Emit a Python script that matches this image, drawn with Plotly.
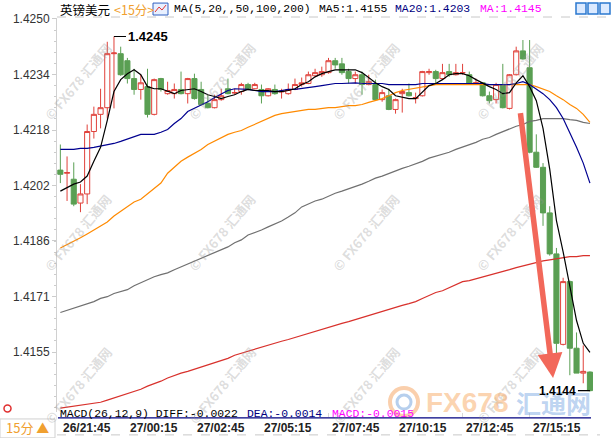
import plotly.graph_objects as go

# ---------------- data ----------------
time_labels = ["26/21:45", "27/00:15", "27/02:45", "27/05:15",
               "27/07:45", "27/10:15", "27/12:45", "27/15:15"]
label_bar_index = [0, 10, 20, 30, 40, 50, 60, 70]

opens = [1.42069, 1.42060, 1.42043, 1.41975, 1.42001, 1.42179, 1.42228, 1.42247, 1.42401, 1.42401,
         1.42381, 1.42330, 1.42299, 1.42307, 1.42228, 1.42330, 1.42287, 1.42287, 1.42299, 1.42287,
         1.42330, 1.42299, 1.42259, 1.42247, 1.42270, 1.42301, 1.42289, 1.42293, 1.42313, 1.42301,
         1.42299, 1.42281, 1.42299, 1.42292, 1.42287, 1.42299, 1.42313, 1.42316, 1.42338, 1.42341,
         1.42347, 1.42381, 1.42372, 1.42350, 1.42330, 1.42341, 1.42313, 1.42313, 1.42270, 1.42281,
         1.42242, 1.42287, 1.42290, 1.42273, 1.42281, 1.42347, 1.42350, 1.42330, 1.42350, 1.42341,
         1.42346, 1.42341, 1.42317, 1.42318, 1.42281, 1.42270, 1.42313, 1.42245, 1.42341, 1.42409,
         1.42361, 1.42120, 1.42077, 1.41947, 1.41830, 1.41572, 1.41751, 1.41561, 1.41490, 1.41493]
highs = [1.42142, 1.42108, 1.42091, 1.42029, 1.42199, 1.42250, 1.42301, 1.42435, 1.42450, 1.42421,
         1.42389, 1.42358, 1.42341, 1.42358, 1.42330, 1.42332, 1.42321, 1.42316, 1.42350, 1.42332,
         1.42344, 1.42321, 1.42284, 1.42284, 1.42301, 1.42330, 1.42301, 1.42318, 1.42318, 1.42318,
         1.42313, 1.42303, 1.42313, 1.42301, 1.42316, 1.42330, 1.42333, 1.42350, 1.42358, 1.42364,
         1.42389, 1.42389, 1.42389, 1.42358, 1.42350, 1.42350, 1.42341, 1.42327, 1.42299, 1.42301,
         1.42273, 1.42301, 1.42316, 1.42290, 1.42352, 1.42358, 1.42355, 1.42372, 1.42372, 1.42372,
         1.42372, 1.42350, 1.42330, 1.42320, 1.42293, 1.42318, 1.42372, 1.42343, 1.42421, 1.42440,
         1.42440, 1.42171, 1.42089, 1.41966, 1.41847, 1.41762, 1.41754, 1.41606, 1.41569, 1.41495]
lows = [1.42032, 1.41981, 1.41966, 1.41949, 1.41972, 1.42159, 1.42188, 1.42216, 1.42245, 1.42338,
        1.42316, 1.42284, 1.42270, 1.42219, 1.42225, 1.42293, 1.42284, 1.42273, 1.42285, 1.42259,
        1.42270, 1.42253, 1.42245, 1.42245, 1.42267, 1.42285, 1.42284, 1.42284, 1.42297, 1.42299,
        1.42259, 1.42279, 1.42284, 1.42273, 1.42284, 1.42297, 1.42307, 1.42314, 1.42336, 1.42335,
        1.42344, 1.42358, 1.42341, 1.42316, 1.42316, 1.42284, 1.42311, 1.42268, 1.42264, 1.42240,
        1.42230, 1.42233, 1.42279, 1.42259, 1.42279, 1.42341, 1.42316, 1.42328, 1.42335, 1.42339,
        1.42341, 1.42313, 1.42313, 1.42279, 1.42259, 1.42259, 1.42245, 1.42242, 1.42339, 1.42384,
        1.42117, 1.42075, 1.41910, 1.41825, 1.41541, 1.41569, 1.41484, 1.41490, 1.41461, 1.41438]
closes = [1.42057, 1.42062, 1.41972, 1.42001, 1.42179, 1.42228, 1.42247, 1.42401, 1.42403, 1.42341,
          1.42330, 1.42299, 1.42318, 1.42228, 1.42327, 1.42299, 1.42296, 1.42299, 1.42287, 1.42330,
          1.42273, 1.42256, 1.42247, 1.42270, 1.42281, 1.42287, 1.42290, 1.42313, 1.42299, 1.42313,
          1.42281, 1.42301, 1.42287, 1.42294, 1.42299, 1.42313, 1.42318, 1.42341, 1.42347, 1.42350,
          1.42381, 1.42369, 1.42347, 1.42330, 1.42341, 1.42313, 1.42321, 1.42270, 1.42290, 1.42242,
          1.42270, 1.42293, 1.42281, 1.42276, 1.42350, 1.42350, 1.42330, 1.42347, 1.42341, 1.42347,
          1.42347, 1.42316, 1.42318, 1.42281, 1.42267, 1.42313, 1.42247, 1.42341, 1.42409, 1.42386,
          1.42120, 1.42077, 1.41947, 1.41830, 1.41575, 1.41751, 1.41561, 1.41490, 1.41495, 1.41440]

ma5 = [1.42009, 1.42020, 1.42029, 1.42035, 1.42052, 1.42094, 1.42134, 1.42211, 1.42293, 1.42327,
       1.42344, 1.42355, 1.42341, 1.42307, 1.42301, 1.42301, 1.42293, 1.42287, 1.42296, 1.42299,
       1.42301, 1.42293, 1.42284, 1.42279, 1.42273, 1.42279, 1.42284, 1.42293, 1.42299, 1.42296,
       1.42296, 1.42296, 1.42293, 1.42293, 1.42296, 1.42301, 1.42313, 1.42321, 1.42335, 1.42344,
       1.42350, 1.42355, 1.42355, 1.42355, 1.42355, 1.42347, 1.42333, 1.42318, 1.42307, 1.42299,
       1.42281, 1.42276, 1.42273, 1.42273, 1.42293, 1.42310, 1.42316, 1.42327, 1.42341, 1.42344,
       1.42344, 1.42338, 1.42327, 1.42316, 1.42307, 1.42299, 1.42287, 1.42290, 1.42318, 1.42338,
       1.42307, 1.42267, 1.42188, 1.42072, 1.41925, 1.41836, 1.41734, 1.41640, 1.41575, 1.41549]
ma20 = [1.42128, 1.42128, 1.42128, 1.42131, 1.42131, 1.42134, 1.42137, 1.42140, 1.42145, 1.42151,
        1.42157, 1.42165, 1.42171, 1.42171, 1.42171, 1.42177, 1.42185, 1.42202, 1.42216, 1.42236,
        1.42245, 1.42253, 1.42264, 1.42276, 1.42287, 1.42296, 1.42301, 1.42301, 1.42299, 1.42296,
        1.42293, 1.42293, 1.42293, 1.42296, 1.42299, 1.42299, 1.42301, 1.42304, 1.42307, 1.42310,
        1.42313, 1.42316, 1.42316, 1.42318, 1.42318, 1.42316, 1.42316, 1.42316, 1.42316, 1.42313,
        1.42313, 1.42313, 1.42313, 1.42313, 1.42316, 1.42316, 1.42318, 1.42318, 1.42316, 1.42316,
        1.42316, 1.42316, 1.42316, 1.42316, 1.42313, 1.42313, 1.42313, 1.42313, 1.42316, 1.42321,
        1.42313, 1.42301, 1.42287, 1.42270, 1.42247, 1.42216, 1.42177, 1.42134, 1.42089, 1.42032]
ma50 = [1.41847, 1.41856, 1.41867, 1.41876, 1.41887, 1.41898, 1.41910, 1.41921, 1.41938, 1.41952,
        1.41966, 1.41978, 1.41986, 1.42001, 1.42015, 1.42032, 1.42060, 1.42077, 1.42094, 1.42106,
        1.42117, 1.42128, 1.42142, 1.42151, 1.42162, 1.42171, 1.42177, 1.42182, 1.42191, 1.42199,
        1.42208, 1.42216, 1.42225, 1.42230, 1.42233, 1.42236, 1.42239, 1.42242, 1.42242, 1.42245,
        1.42247, 1.42247, 1.42250, 1.42253, 1.42253, 1.42256, 1.42262, 1.42267, 1.42273, 1.42281,
        1.42290, 1.42296, 1.42299, 1.42304, 1.42307, 1.42310, 1.42313, 1.42313, 1.42313, 1.42313,
        1.42313, 1.42313, 1.42313, 1.42313, 1.42313, 1.42313, 1.42313, 1.42313, 1.42313, 1.42313,
        1.42313, 1.42307, 1.42301, 1.42293, 1.42281, 1.42270, 1.42256, 1.42245, 1.42228, 1.42205]
ma100 = [1.41663, 1.41669, 1.41674, 1.41680, 1.41686, 1.41694, 1.41703, 1.41708, 1.41717, 1.41722,
         1.41728, 1.41739, 1.41748, 1.41757, 1.41765, 1.41771, 1.41776, 1.41785, 1.41793, 1.41802,
         1.41810, 1.41816, 1.41825, 1.41833, 1.41842, 1.41850, 1.41862, 1.41870, 1.41884, 1.41890,
         1.41898, 1.41907, 1.41915, 1.41924, 1.41935, 1.41947, 1.41964, 1.41972, 1.41981, 1.41986,
         1.41995, 1.42003, 1.42009, 1.42015, 1.42023, 1.42029, 1.42037, 1.42046, 1.42052, 1.42060,
         1.42066, 1.42074, 1.42080, 1.42086, 1.42094, 1.42103, 1.42108, 1.42114, 1.42120, 1.42128,
         1.42134, 1.42142, 1.42148, 1.42157, 1.42162, 1.42171, 1.42179, 1.42185, 1.42194, 1.42199,
         1.42208, 1.42211, 1.42216, 1.42216, 1.42216, 1.42216, 1.42213, 1.42211, 1.42205, 1.42202]
ma200 = [1.41390, 1.41393, 1.41396, 1.41399, 1.41402, 1.41405, 1.41407, 1.41413, 1.41419, 1.41425,
         1.41430, 1.41436, 1.41444, 1.41453, 1.41459, 1.41467, 1.41476, 1.41484, 1.41490, 1.41495,
         1.41501, 1.41507, 1.41512, 1.41518, 1.41524, 1.41532, 1.41541, 1.41547, 1.41552, 1.41558,
         1.41564, 1.41569, 1.41575, 1.41581, 1.41586, 1.41592, 1.41598, 1.41603, 1.41609, 1.41615,
         1.41620, 1.41626, 1.41632, 1.41637, 1.41643, 1.41649, 1.41654, 1.41660, 1.41666, 1.41671,
         1.41677, 1.41683, 1.41688, 1.41694, 1.41703, 1.41711, 1.41720, 1.41725, 1.41734, 1.41742,
         1.41751, 1.41754, 1.41759, 1.41765, 1.41768, 1.41774, 1.41779, 1.41785, 1.41791, 1.41796,
         1.41802, 1.41805, 1.41810, 1.41813, 1.41816, 1.41819, 1.41822, 1.41822, 1.41825, 1.41825]

y_tick_values = [1.42500, 1.42342, 1.42183, 1.42025, 1.41867, 1.41708, 1.41550]
y_tick_labels = ["1.4250", "1.4234", "1.4218", "1.4202", "1.4186", "1.4171", "1.4155"]

high_mark_bar, high_mark_value = 8, 1.4245
last_mark_bar, last_mark_value = 79, 1.4144
arrow_tail = (68.6, 1.42236)
arrow_head = (73.5, 1.41476)

title_parts = [("英镑美元", "#000000"), ("<15分>", "#f0a030")]
legend_parts = [("MA(5,20,,50,100,200)", "#000000"), ("MA5:1.4155", "#000000"),
                ("MA20:1.4203", "#000080"), ("MA:1.4145", "#ff00ff")]
macd_parts = [("MACD(26,12,9) DIFF:-0.0022", "#000000"), ("DEA:-0.0014", "#000080"),
              ("MACD:-0.0015", "#ff00ff")]

# ---------------- figure ----------------
W, H = 612, 438
ML, MR, MT, MB = 57, 12, 16, 26
PW, PH = W - ML - MR, H - MT - MB


def px(x):
    return (x - ML) / PW


def py(y):
    return (H - MB - y) / PH


idx = list(range(len(opens)))
RED = "#e0403a"
GREEN = "#5a9f53"

fig = go.Figure()
fig.add_trace(go.Candlestick(
    x=idx, open=opens, high=highs, low=lows, close=closes,
    increasing=dict(line=dict(color=RED, width=1), fillcolor="#ffffff"),
    decreasing=dict(line=dict(color=GREEN, width=1), fillcolor=GREEN),
    whiskerwidth=0, hoverinfo="skip", showlegend=False))

for vals, col in [(ma200, "#d8312c"), (ma100, "#707070"), (ma50, "#ff8a00"),
                  (ma20, "#000090"), (ma5, "#000000")]:
    fig.add_trace(go.Scatter(x=idx, y=vals, mode="lines",
                             line=dict(color=col, width=1.2),
                             hoverinfo="skip", showlegend=False))

ann = []
shapes = []

# watermarks
for wy in [80, 232, 385]:
    for wx in [78, 222, 366, 510]:
        ann.append(dict(xref="paper", yref="paper", x=px(wx), y=py(wy),
                        xanchor="center", yanchor="middle",
                        text="© FX678 汇通网", showarrow=False, textangle=-50,
                        font=dict(family="Noto Sans CJK SC", size=13,
                                  color="rgba(150,150,150,0.32)", weight="bold")))

# logo bottom-right
shapes.append(dict(type="circle", xref="paper", yref="paper",
                   x0=px(390), x1=px(418), y0=py(416), y1=py(388),
                   line=dict(color="rgba(245,160,90,0.5)", width=4)))
shapes.append(dict(type="circle", xref="paper", yref="paper",
                   x0=px(397), x1=px(411), y0=py(409), y1=py(395),
                   line=dict(color="rgba(110,160,220,0.5)", width=3)))
ann.append(dict(xref="paper", yref="paper", x=px(467), y=py(402), text="FX678",
                xanchor="center", yanchor="middle",
                showarrow=False, font=dict(family="Liberation Sans", size=28,
                                           color="rgba(248,175,110,0.55)", weight="bold")))
ann.append(dict(xref="paper", yref="paper", x=px(553), y=py(402), text="汇通网",
                xanchor="center", yanchor="middle",
                showarrow=False, font=dict(family="Noto Sans CJK SC", size=25,
                                           color="rgba(110,160,225,0.45)", weight="bold")))

# high / last price marks
ann.append(dict(x=high_mark_bar, y=high_mark_value, xref="x", yref="y",
                text="<b>%.4f</b>" % high_mark_value, showarrow=True, arrowhead=0,
                arrowwidth=1.2, arrowcolor="#000000", ax=12, ay=0, xanchor="left",
                standoff=0, font=dict(family="Liberation Sans", size=13, color="#000000")))
ann.append(dict(x=last_mark_bar, y=last_mark_value, xref="x", yref="y",
                text="<b>%.4f</b>" % last_mark_value, showarrow=True, arrowhead=0,
                arrowwidth=1.2, arrowcolor="#000000", ax=-12, ay=0, xanchor="right",
                standoff=0, font=dict(family="Liberation Sans", size=12, color="#000000")))

# red arrow
ann.append(dict(x=arrow_head[0], y=arrow_head[1], ax=arrow_tail[0], ay=arrow_tail[1],
                xref="x", yref="y", axref="x", ayref="y", text="", showarrow=True,
                arrowhead=2, arrowsize=0.9, arrowwidth=5.5, arrowcolor="#f2685a"))

# top title line
xpos = [58, 112]
for (t, c), x0 in zip(title_parts, xpos):
    ann.append(dict(xref="paper", yref="paper", x=px(x0), y=py(7), text=t, showarrow=False,
                    xanchor="left", yanchor="middle",
                    font=dict(family="Noto Sans CJK SC", size=12.5, color=c)))
shapes.append(dict(type="rect", xref="paper", yref="paper", x0=px(153), x1=px(168),
                   y0=py(13), y1=py(1), line=dict(color="#3060c0", width=1), fillcolor="#e8f0ff"))
shapes.append(dict(type="path", xref="paper", yref="paper",
                   path="M %f %f L %f %f L %f %f L %f %f" % (px(155), py(10), px(159), py(5),
                                                             px(162), py(8), px(166), py(3)),
                   line=dict(color="#e03030", width=1)))
xpos = [172, 317, 393, 478]
for (t, c), x0 in zip(legend_parts, xpos):
    ann.append(dict(xref="paper", yref="paper", x=px(x0), y=py(7), text=t, showarrow=False,
                    xanchor="left", yanchor="middle",
                    font=dict(family="Liberation Mono", size=11.4, color=c)))
# top-right icons
for x0 in [576, 588, 600]:
    shapes.append(dict(type="rect", xref="paper", yref="paper", x0=px(x0), x1=px(x0 + 10),
                       y0=py(12), y1=py(1), line=dict(color="#2a78d0", width=1.5),
                       fillcolor="#dceaff"))

# top dashed line
shapes.append(dict(type="line", xref="paper", yref="paper", x0=0, x1=px(612), y0=py(15), y1=py(15),
                   line=dict(color="#c8c8c8", width=1, dash="dash")))
# bottom MACD header
shapes.append(dict(type="line", xref="paper", yref="paper", x0=px(58), x1=px(591),
                   y0=py(418), y1=py(418), line=dict(color="#000080", width=1.3)))
xpos = [58, 245, 330]
for (t, c), x0 in zip(macd_parts, xpos):
    ann.append(dict(xref="paper", yref="paper", x=px(x0), y=py(414), text=t, showarrow=False,
                    xanchor="left", yanchor="middle",
                    font=dict(family="Liberation Mono", size=11.4, color=c)))
shapes.append(dict(type="line", xref="paper", yref="paper", x0=px(57), x1=px(600),
                   y0=py(435), y1=py(435), line=dict(color="#c8c8c8", width=1, dash="dash")))

# time labels (left-aligned at their bar, like the reference)
for b, t in zip(label_bar_index, time_labels):
    ann.append(dict(x=b, xref="x", y=py(428), yref="paper", text=t, showarrow=False,
                    xanchor="left", yanchor="middle", xshift=1,
                    font=dict(family="Liberation Sans", size=12, color="#222222", weight="bold")))

# bottom-left period box
shapes.append(dict(type="rect", xref="paper", yref="paper", x0=px(0), x1=px(55),
                   y0=py(438), y1=py(419), line=dict(color="#d0d0d0", width=1), fillcolor="#ffffff"))
ann.append(dict(xref="paper", yref="paper", x=px(27), y=py(428), text="15分 ▲", showarrow=False,
                xanchor="center", yanchor="middle",
                font=dict(family="Noto Sans CJK SC", size=13, color="#f0a030")))
shapes.append(dict(type="circle", xref="paper", yref="paper", x0=px(4), x1=px(11),
                   y0=py(412), y1=py(405), line=dict(color="#e03030", width=1.5)))

fig.update_layout(
    width=W, height=H, margin=dict(l=ML, r=MR, t=MT, b=MB),
    paper_bgcolor="#ffffff", plot_bgcolor="#ffffff",
    showlegend=False, hovermode=False,
    boxgap=0.2, boxgroupgap=0.05,
    annotations=ann, shapes=shapes,
    xaxis=dict(range=[-0.5, 80.5], rangeslider=dict(visible=False),
               tickmode="array", tickvals=label_bar_index, showticklabels=False,
               ticks="outside", ticklen=4, tickcolor="#d8d8d8",
               showgrid=False, zeroline=False, showline=False),
    yaxis=dict(range=[1.413791, 1.425028], tickmode="array", tickvals=y_tick_values,
               ticktext=y_tick_labels, ticks="outside", ticklen=4, tickcolor="#cccccc",
               showgrid=False, zeroline=False, showline=True, linecolor="#d0d0d0", linewidth=1,
               minor=dict(tickmode="linear", tick0=1.4250, dtick=0.00031667, ticks="outside",
                          ticklen=2, tickcolor="#cccccc"),
               tickfont=dict(family="Liberation Sans", size=12, color="#333333")),
)

fig.write_html("out.html", config={"displayModeBar": False, "staticPlot": True},
               post_script="document.body.style.margin='0px';document.body.style.overflow='hidden';")
